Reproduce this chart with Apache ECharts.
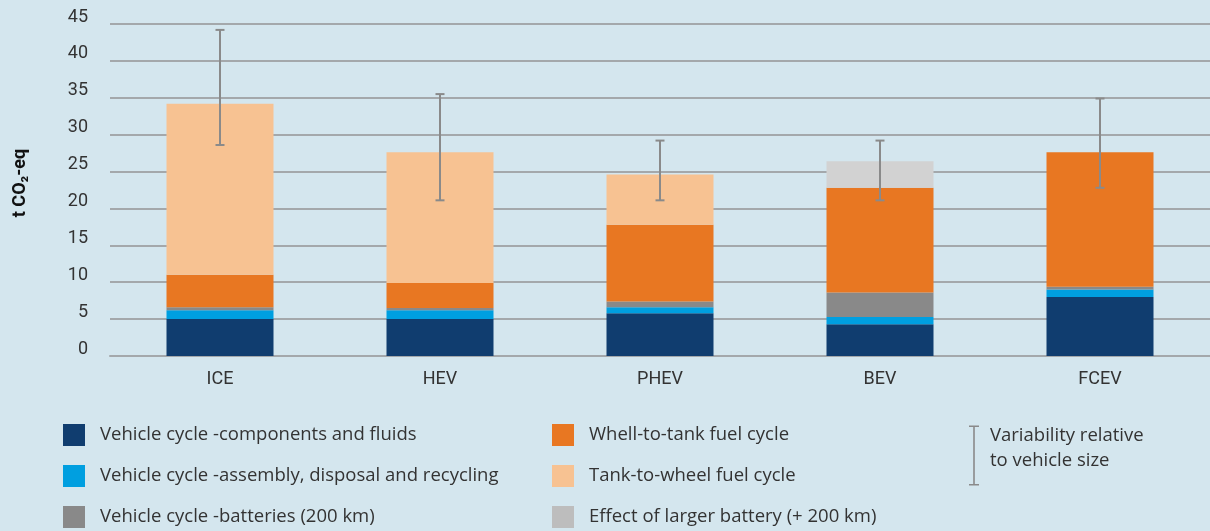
<!DOCTYPE html>
<html>
<head>
<meta charset="utf-8">
<script src="https://cdn.jsdelivr.net/npm/echarts@6/dist/echarts.min.js"></script>
<style>
html,body{margin:0;padding:0;background:#d4e6ee;}
#chart{width:1210px;height:531px;}
</style>
</head>
<body>
<div id="chart"></div>
<script>
const categories = ['ICE', 'HEV', 'PHEV', 'BEV', 'FCEV'];
const componentsFluids = [5.0, 5.0, 5.8, 4.3, 8.0];
const assemblyDisposal = [1.2, 1.2, 0.8, 1.0, 1.0];
const batteries200 = [0.4, 0.3, 0.8, 3.3, 0.4];
const wellToTank = [4.4, 3.4, 10.4, 14.2, 18.2];
const tankToWheel = [23.2, 17.7, 6.8, null, null];
const largerBattery = [null, null, null, 3.6, null];
const errLow = [28.6, 21.1, 21.1, 21.1, 22.8];
const errHigh = [44.2, 35.5, 29.2, 29.2, 34.9];
const yTicks = [0, 5, 10, 15, 20, 25, 30, 35, 40, 45];

const FONT = 'Roboto, "Liberation Sans", sans-serif';
const LFONT = '"Open Sans", Roboto, sans-serif';
const TXT = '#333333';
const GRID = '#a4a8ab';
const ERR = '#8a8a8a';

const names = {
  cf: 'Vehicle cycle -components and fluids',
  ad: 'Vehicle cycle -assembly, disposal and recycling',
  bt: 'Vehicle cycle -batteries (200 km)',
  wt: 'Whell-to-tank fuel cycle',
  tw: 'Tank-to-wheel fuel cycle',
  lb: 'Effect of larger battery (+ 200 km)',
  er: 'Variability relative to vehicle size'
};

function bar(name, data, color) {
  return {
    name: name, type: 'bar', stack: 'total', data: data, barWidth: 107,
    itemStyle: { color: color }, emphasis: { disabled: true }, z: 2
  };
}

const legendBase = {
  orient: 'vertical', selectedMode: false, itemWidth: 22, itemHeight: 22, itemGap: 19,
  icon: 'rect', padding: 0, height: 110,
  textStyle: { color: TXT, fontSize: 18.5, fontFamily: LFONT, padding: [0, 0, 0, 10] }
};

const chart = echarts.init(document.getElementById('chart'));
chart.setOption({
  backgroundColor: '#d4e6ee',
  animation: false,
  grid: { left: 110, right: -5, top: 24, bottom: 175, containLabel: false },
  xAxis: {
    type: 'category', data: categories,
    axisLine: { lineStyle: { color: GRID, width: 2 } },
    axisTick: { show: false },
    axisLabel: { color: TXT, fontSize: 18, fontFamily: FONT, margin: 14 }
  },
  yAxis: {
    type: 'value', min: 0, max: 45, interval: 5,
    name: '{s|}{a|t CO\u2082-eq}', nameLocation: 'middle', nameGap: 81, nameRotate: 90,
    nameTextStyle: { color: '#111', fontSize: 18, fontWeight: 'bold', fontFamily: FONT,
      rich: { a: { color: '#111', fontSize: 18, fontWeight: 'bold', fontFamily: FONT }, s: { width: 14 } } },
    axisLine: { show: false }, axisTick: { show: false },
    axisLabel: { color: TXT, fontSize: 18, fontFamily: FONT, margin: 22, verticalAlign: 'bottom', lineHeight: 14,
      formatter: function (v) { return yTicks.indexOf(v) >= 0 ? String(v) : ''; } },
    splitLine: { lineStyle: { color: GRID, width: 2 } }
  },
  legend: [
    Object.assign({}, legendBase, { left: 63, top: 424, data: [names.cf, names.ad, names.bt] }),
    Object.assign({}, legendBase, { left: 552, top: 424, data: [names.wt, names.tw, { name: names.lb, itemStyle: { color: '#bdbdbd' } }] }),
    {
      orient: 'vertical', selectedMode: false, left: 969, top: 425.5, itemWidth: 10, itemHeight: 60, padding: 0,
      icon: 'path://M0,0 H10 V1.6 H5.8 V58.4 H10 V60 H0 V58.4 H4.2 V1.6 H0 Z',
      formatter: function () { return '{t|Variability relative}\n{t|to vehicle size}\n{s| }'; },
      textStyle: { color: TXT, fontSize: 18.5, fontFamily: LFONT, padding: [0, 0, 0, 6],
        rich: { t: { color: TXT, fontSize: 18.5, fontFamily: LFONT, lineHeight: 25 }, s: { fontSize: 1, lineHeight: 14 } } },
      data: [names.er]
    }
  ],
  series: [
    bar(names.cf, componentsFluids, '#103d6f'),
    bar(names.ad, assemblyDisposal, '#009fe0'),
    bar(names.bt, batteries200, '#898989'),
    bar(names.wt, wellToTank, '#e87722'),
    bar(names.tw, tankToWheel, '#f7c292'),
    bar(names.lb, largerBattery, '#d2d2d2'),
    {
      name: names.er, type: 'custom', z: 5,
      itemStyle: { color: ERR },
      encode: { x: 0, y: [1, 2] },
      data: categories.map(function (c, i) { return [i, errLow[i], errHigh[i]]; }),
      renderItem: function (params, api) {
        const lo = api.coord([api.value(0), api.value(1)]);
        const hi = api.coord([api.value(0), api.value(2)]);
        const cap = 4.5;
        const st = { stroke: ERR, lineWidth: 2 };
        return {
          type: 'group', children: [
            { type: 'line', shape: { x1: lo[0], y1: hi[1], x2: lo[0], y2: lo[1] }, style: st },
            { type: 'line', shape: { x1: lo[0] - cap, y1: hi[1], x2: lo[0] + cap, y2: hi[1] }, style: st },
            { type: 'line', shape: { x1: lo[0] - cap, y1: lo[1], x2: lo[0] + cap, y2: lo[1] }, style: st }
          ]
        };
      }
    }
  ]
});
</script>
</body>
</html>
